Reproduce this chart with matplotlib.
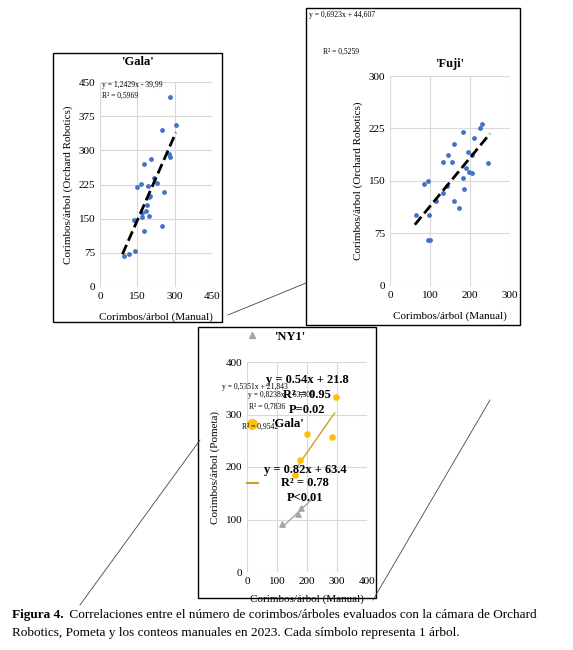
import matplotlib
matplotlib.use("Agg")
import matplotlib.pyplot as plt
from matplotlib.patches import Rectangle
from matplotlib.lines import Line2D

plt.rcParams['font.family'] = ['Liberation Serif', 'DejaVu Serif']

W, H = 573, 650

# Datos
gala_x = [95, 115, 140, 135, 148, 165, 170, 168, 185, 187, 178, 198, 200, 198, 193, 178, 205, 215, 228, 258, 248, 248, 278, 282, 280, 305]
gala_y = [67, 73, 80, 146, 219, 226, 153, 163, 166, 179, 122, 155, 200, 197, 222, 270, 280, 240, 228, 208, 133, 345, 293, 285, 418, 356]
gala_fit = (1.2429, -39.99)

fuji_x = [64, 85, 96, 98, 95, 101, 116, 132, 132, 143, 146, 156, 159, 161, 173, 182, 183, 184, 190, 194, 198, 206, 204, 211, 225, 230, 246]
fuji_y = [102, 146, 150, 102, 66, 65, 121, 177, 133, 143, 187, 177, 203, 121, 111, 154, 220, 139, 168, 192, 163, 161, 187, 211, 225, 231, 175]
fuji_fit = (0.6923, 44.607)

pom_gala_x = [160, 178, 200, 283, 296]
pom_gala_y = [185, 213, 263, 258, 333]
pom_gala_fit = (0.82, 63.4)
ny1_x = [118, 170, 180]
ny1_y = [91, 111, 122]
ny1_fit = (0.54, 21.8)


def fx(x):
    return x / W


def fy(y):
    return 1 - y / H


def add_ax(l, t, r, b):
    return fig.add_axes([fx(l), fy(b), (r - l) / W, (b - t) / H])


def style(ax, lim, step):
    ax.set_xlim(0, lim[0])
    ax.set_ylim(0, lim[1])
    ax.set_xticks(range(0, lim[0] + 1, step[0]))
    ax.set_yticks(range(0, lim[1] + 1, step[1]))
    ax.grid(True, color='#d9d9d9', lw=0.8)
    ax.set_axisbelow(True)
    for s in ax.spines.values():
        s.set_visible(False)
    ax.tick_params(length=0, labelsize=8)


def box(l, t, r, b):
    fig.add_artist(Rectangle((fx(l), fy(b)), (r - l) / W, (b - t) / H,
                             transform=fig.transFigure, fill=False, ec='black', lw=1))


def line(x0, y0, x1, y1):
    fig.add_artist(Line2D([fx(x0), fx(x1)], [fy(y0), fy(y1)], transform=fig.transFigure,
                          color='#444444', lw=0.6))


fig = plt.figure(figsize=(W / 100, H / 100), dpi=100)

# Gala
box(53, 53, 222, 322)
ax = add_ax(100, 82, 212, 287)
style(ax, (450, 450), (150, 75))
ax.scatter(gala_x, gala_y, s=6, color='#4472c4')
xs = [90, 305]
ax.plot(xs, [gala_fit[0] * v + gala_fit[1] for v in xs], 'k--', lw=2)
ax.set_xlabel('Corimbos/árbol (Manual)', fontsize=8, labelpad=8)
ax.set_ylabel('Corimbos/árbol (Orchard Robotics)', fontsize=8)
fig.text(fx(137), fy(62), "'Gala'", fontsize=9, weight='bold', ha='center', va='center')
fig.text(fx(102), fy(85), 'y = 1,2429x - 39,99', fontsize=5.5, va='center')
fig.text(fx(102), fy(96), 'R² = 0,5969', fontsize=5.5, va='center')

# Fuji
box(306, 8, 520, 325)
ax = add_ax(390, 76, 510, 286)
style(ax, (300, 300), (100, 75))
ax.scatter(fuji_x, fuji_y, s=6, color='#4472c4')
xs = [62, 250]
ax.plot(xs, [fuji_fit[0] * v + fuji_fit[1] for v in xs], 'k--', lw=2)
ax.set_xlabel('Corimbos/árbol (Manual)', fontsize=8, labelpad=8)
ax.set_ylabel('Corimbos/árbol (Orchard Robotics)', fontsize=8)
fig.text(fx(450), fy(64), "'Fuji'", fontsize=9, weight='bold', ha='center', va='center')
fig.text(fx(309), fy(15), 'y = 0,6923x + 44,607', fontsize=5.5, va='center')
fig.text(fx(323), fy(52), 'R² = 0,5259', fontsize=5.5, va='center')

# Pometa
box(198, 327, 376, 598)
ax = add_ax(247, 362, 367, 572)
style(ax, (400, 400), (100, 100))
ax.scatter(pom_gala_x, pom_gala_y, s=14, color='#ffc000', zorder=3)
ax.scatter(ny1_x, ny1_y, s=14, marker='^', color='#a5a5a5', zorder=3)
xs = [172, 292]
ax.plot(xs, [pom_gala_fit[0] * v + pom_gala_fit[1] for v in xs], color='#c9a227', lw=1)
xs = [118, 212]
ax.plot(xs, [ny1_fit[0] * v + ny1_fit[1] for v in xs], color='#a5a5a5', lw=1)
ax.set_xlabel('Corimbos/árbol (Manual)', fontsize=8, labelpad=6)
ax.set_ylabel('Corimbos/árbol (Pometa)', fontsize=8)
fig.add_artist(Line2D([fx(252)], [fy(335)], marker='^', color='#a5a5a5', ms=5, transform=fig.transFigure))
fig.add_artist(Line2D([fx(252)], [fy(424)], marker='o', color='#ffc000', ms=7, transform=fig.transFigure))
fig.add_artist(Line2D([fx(247), fx(258)], [fy(483)] * 2, color='#c9a227', lw=1.5, transform=fig.transFigure))
fig.text(fx(290), fy(337), "'NY1'", fontsize=9, weight='bold', ha='center', va='center')
fig.text(fx(222), fy(387), 'y = 0,5351x + 21,843', fontsize=5.5, va='center')
fig.text(fx(248), fy(395), 'y = 0,8238x + 63,309', fontsize=5.5, va='center')
fig.text(fx(249), fy(407), 'R² = 0,7836', fontsize=5.5, va='center')
fig.text(fx(242), fy(427), 'R² = 0,9542', fontsize=5.5, va='center')
for txt, x, y in [('y = 0.54x + 21.8', 307, 380), ('R² = 0.95', 307, 395), ('P=0.02', 307, 410),
                  ("'Gala'", 287, 424), ('y = 0.82x + 63.4', 305, 470), ('R² = 0.78', 305, 483),
                  ('P<0.01', 305, 498)]:
    fig.text(fx(x), fy(y), txt, fontsize=9, weight='bold', ha='center', va='center')

# líneas de conexión
line(228, 315, 306, 283)
line(80, 605, 200, 440)
line(373, 600, 490, 400)

fig.text(fx(12), fy(615), 'Figura 4.', fontsize=9.5, weight='bold', va='center')
fig.text(fx(66), fy(615), ' Correlaciones entre el número de corimbos/árboles evaluados con la cámara de Orchard',
         fontsize=9.5, va='center')
fig.text(fx(12), fy(633), 'Robotics, Pometa y los conteos manuales en 2023. Cada símbolo representa 1 árbol.',
         fontsize=9.5, va='center')

fig.savefig('out.png', dpi=100)
